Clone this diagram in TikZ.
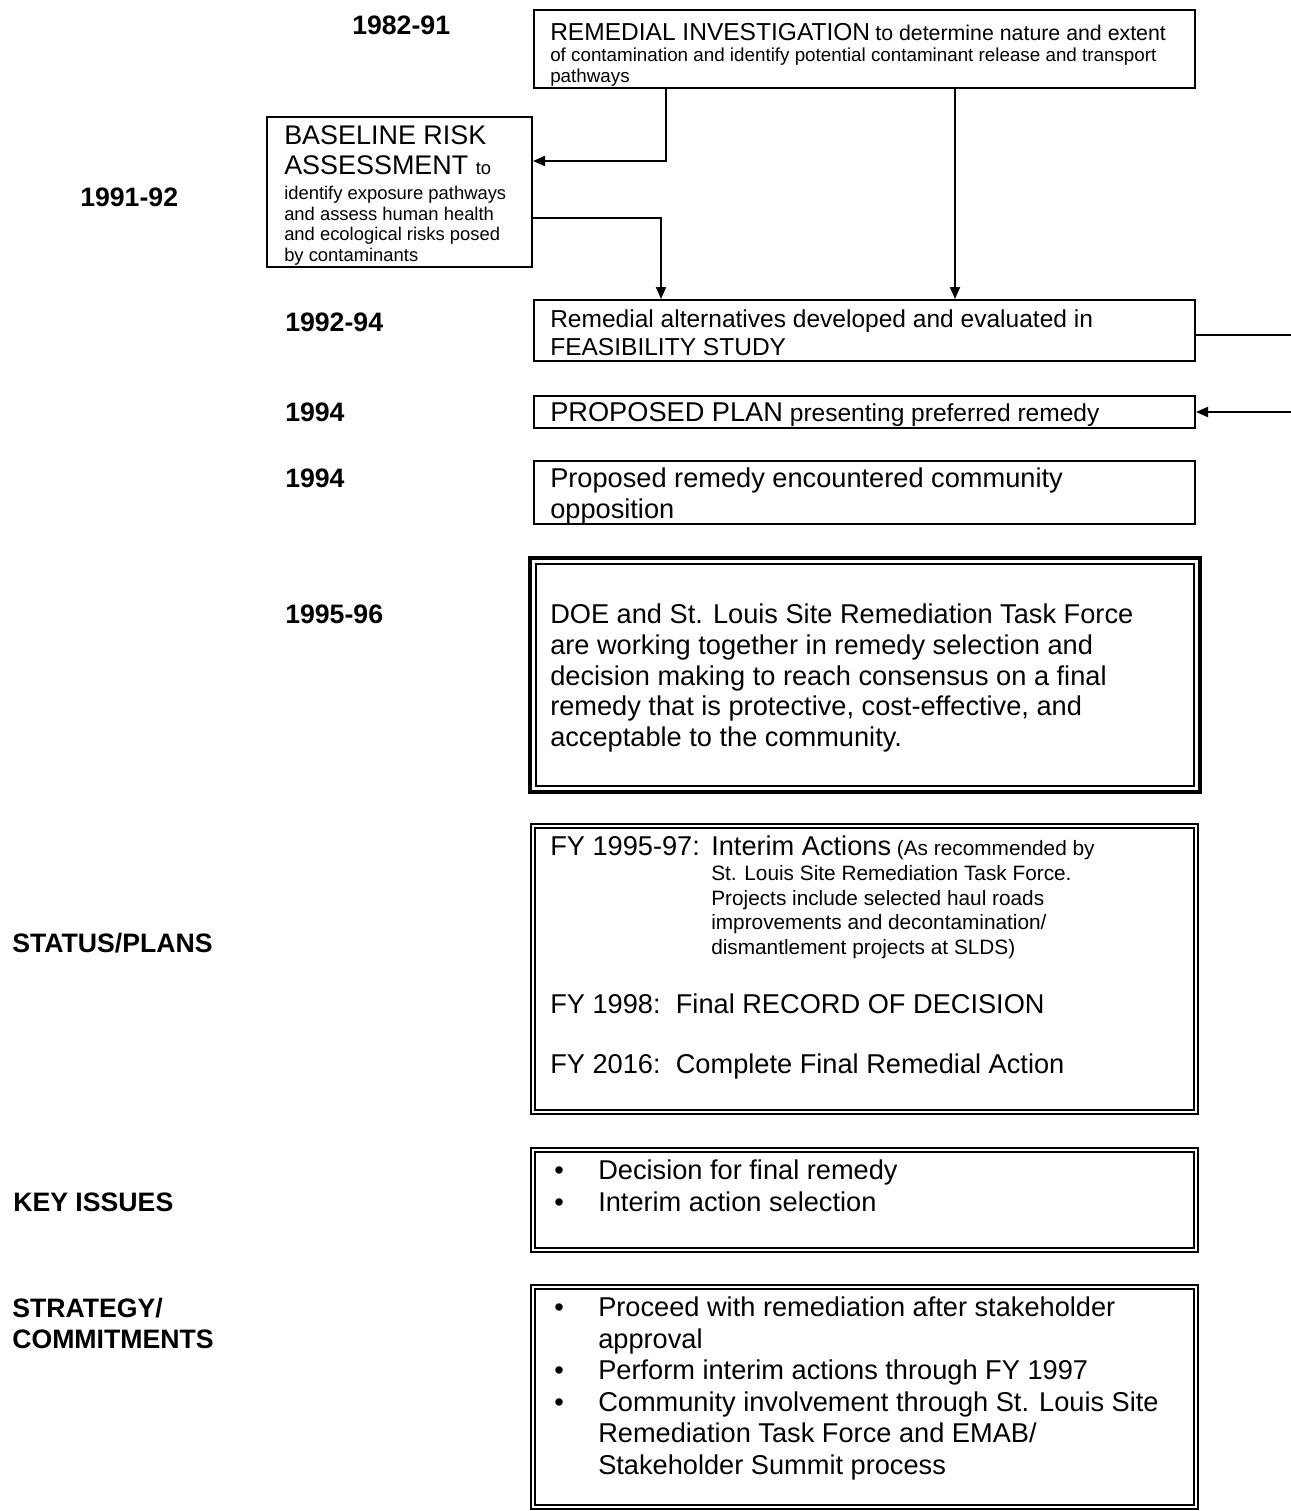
\documentclass[tikz,border=0pt]{standalone}
\usepackage{fontspec}
\setmainfont{Liberation Sans}
\usetikzlibrary{arrows.meta,fit}

\newcommand\bigtxt{\fontsize{20.4}{22.9}\selectfont}
\newcommand\midtxt{\fontsize{18.4}{21.5}\selectfont}
\newcommand\ritxt{\fontsize{14.1}{15.9}\selectfont}
\newcommand\bratitle{\fontsize{20.2}{22.5}\selectfont}
\newcommand\bratxt{\fontsize{13.8}{15.5}\selectfont}
\newcommand\iatxt{\fontsize{15.6}{18.4}\selectfont}
\newcommand\keytxt{\fontsize{20.4}{24}\selectfont}
\newcommand\sctxt{\fontsize{20.4}{23.6}\selectfont}
\newcommand\lbltxt{\fontsize{20}{23.3}\selectfont\bfseries}

\tikzset{
  box/.style={draw, line width=1.5pt, inner sep=0pt},
  dbox/.style={draw, line width=1.1pt, double, double distance=2.2pt, inner sep=0pt},
  txt/.style={anchor=north west, inner sep=0pt, align=left},
  lbl/.style={anchor=north west, inner sep=0pt, align=left, font=\lbltxt},
  conn/.style={line width=1.5pt},
  arr/.style={conn, -{Triangle[length=9pt,width=7.5pt]}},
}

\begin{document}
\begin{tikzpicture}[x=0.75pt,y=0.75pt,yscale=-1,xscale=1]
\useasboundingbox (0,0) rectangle (1291,1511);

%Shape: Rectangle
\node[box, fit={(534,10) (1195,88)}] (ri) {};
\node[box, fit={(267,117) (532,267)}] (bra) {};
\node[box, fit={(534,300) (1195,361)}] (fs) {};
\node[box, fit={(534,396) (1195,428)}] (pp) {};
\node[box, fit={(534,461) (1195,524)}] (opp) {};
%Shape: Double Rectangle
\node[box, line width=3pt, fit={(530,558) (1200,792)}] (doe) {};
\node[box, line width=1pt, fit={(536,564) (1194,786)}] (doein) {};
\node[dbox, fit={(533,826) (1196,1112)}] (ia) {};
\node[dbox, fit={(533,1150) (1196,1250)}] (ki) {};
\node[dbox, fit={(533,1287) (1196,1507)}] (sc) {};

%Free ends at the page edge
\coordinate (edgeA) at (1291,335);
\coordinate (edgeB) at (1291,412);

%Straight Lines
\draw[arr] (ri.south -| 666,0) |- (bra.east |- 0,161);
\draw[arr] (ri.south -| 955,0) -- (fs.north -| 955,0);
\draw[arr] (bra.east |- 0,218) -| (fs.north -| 661,0);
\draw[conn] (fs.east |- edgeA) -- (edgeA);
\draw[arr] (edgeB) -- (pp.east |- edgeB);

% Text Node
\node[lbl] (y8291) at (352,16) {1982-91};
\node[lbl] (y9192) at (80,188) {1991-92};
\node[lbl] (y9294) at (285,313) {1992-94};
\node[lbl] (y94a) at (285,403) {1994};
\node[lbl] (y94b) at (285,469) {1994};
\node[lbl] (y9596) at (285,605) {1995-96};
\node[lbl] (status) at (12,933) {STATUS/PLANS};
\node[lbl] (keyiss) at (13,1193) {KEY ISSUES};
\node[lbl] (strat) at (12,1298) {STRATEGY/\\COMMITMENTS};

% Text Node
\node[txt, font=\ritxt] (ritext) at (550,23) {{\midtxt REMEDIAL INVESTIGATION} {\fontsize{16}{16}\selectfont to determine nature and extent}\\of contamination and identify potential contaminant release and transport\\pathways};
\node[txt, font=\bratitle] (bratitle) at (284,125) {BASELINE RISK\\ASSESSMENT {\bratxt to}};
\node[txt, font=\bratxt] (brabody) at (284,186) {identify exposure pathways\\and assess human health\\and ecological risks posed\\by contaminants};
\node[txt, font=\midtxt] (fstext) at (550,309) {Remedial alternatives developed and evaluated in\\FEASIBILITY STUDY};
\node[txt, font=\midtxt] (pptext) at (550,402) {{\bigtxt PROPOSED PLAN} presenting preferred remedy};
\node[txt, font=\bigtxt] (opptext) at (550,468) {Proposed remedy encountered community\\opposition};
\node[txt, font=\bigtxt] (doetext) at (550,604) {DOE and St. Louis Site Remediation Task Force\\are working together in remedy selection and\\decision making to reach consensus on a final\\remedy that is protective, cost-effective, and\\acceptable to the community.};

% Text Node
\node[txt, font=\bigtxt] (fy9597) at (550,836) {FY 1995-97:};
\node[txt, font=\iatxt] (iatext) at (711,836) {{\bigtxt Interim Actions} (As recommended by\\St. Louis Site Remediation Task Force.\\Projects include selected haul roads\\improvements and decontamination/\\dismantlement projects at SLDS)};
\node[txt, font=\bigtxt] (fy98) at (550,994) {FY 1998:\hspace{0.56em}Final RECORD OF DECISION};
\node[txt, font=\bigtxt] (fy16) at (550,1054) {FY 2016:\hspace{0.56em}Complete Final Remedial Action};

% Text Node
\node[txt, font=\keytxt] (kitext) at (554,1160) {\makebox[33pt][l]{\textbullet}Decision for final remedy\\\makebox[33pt][l]{\textbullet}Interim action selection};
\node[txt, font=\sctxt] (sctext) at (554,1297) {\makebox[33pt][l]{\textbullet}Proceed with remediation after stakeholder\\\hspace*{33pt}approval\\\makebox[33pt][l]{\textbullet}Perform interim actions through FY 1997\\\makebox[33pt][l]{\textbullet}Community involvement through St. Louis Site\\\hspace*{33pt}Remediation Task Force and EMAB/\\\hspace*{33pt}Stakeholder Summit process};

\end{tikzpicture}
\end{document}
